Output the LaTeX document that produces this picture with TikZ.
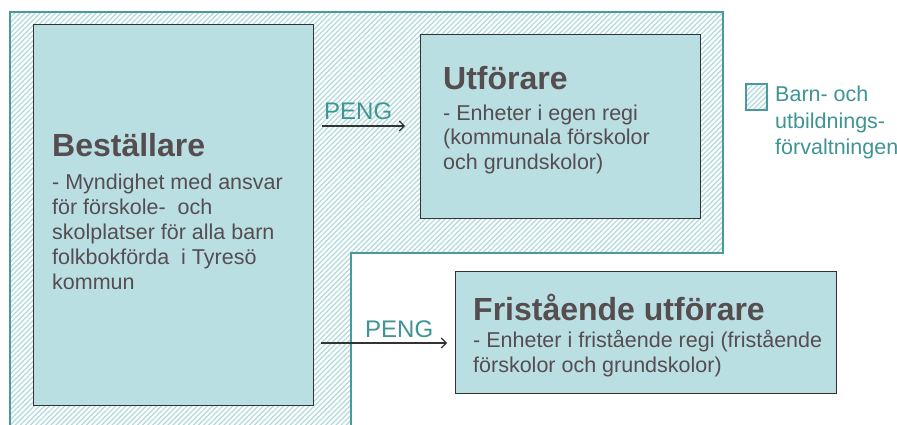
\documentclass[tikz,border=0pt]{standalone}
\usepackage{fontspec}
\setmainfont{Liberation Sans}
\usetikzlibrary{patterns.meta,arrows.meta}
\definecolor{boxfill}{HTML}{BADFE3}
\definecolor{boxline}{HTML}{333333}
\definecolor{txt}{HTML}{554D50}
\definecolor{teal}{HTML}{3F9496}
\definecolor{hatchc}{HTML}{AFD9DC}
\definecolor{hatchline}{HTML}{4A9A9C}
\begin{document}
\begin{tikzpicture}[x=1pt,y=-1pt,
  hatch/.style={draw=hatchline,line width=1.4pt,
    pattern={Lines[angle=45,distance=3.6pt,line width=1.2pt]},pattern color=hatchc},
  box/.style={draw=boxline,fill=boxfill,line width=1.1pt,rectangle,inner sep=0pt,anchor=north west},
  titletext/.style={text=txt,font=\bfseries\fontsize{32}{36}\selectfont,inner sep=0pt,anchor=base west},
  bodytext/.style={text=txt,font=\fontsize{21.5}{25}\selectfont,align=left,inner sep=0pt,anchor=base west},
  legendtext/.style={text=teal,font=\fontsize{21.5}{26}\selectfont,align=left,inner sep=0pt,anchor=base west},
  pengtext/.style={text=teal,font=\fontsize{24}{28}\selectfont,inner sep=0pt,anchor=base west},
  flow/.style={draw=boxline,line width=1.1pt,-{Straight Barb[length=5pt,width=10pt,line width=1.1pt]}}
]
\useasboundingbox (0,0) rectangle (897,425);
\clip (0,0) rectangle (897,425);
\fill[white] (0,0) rectangle (897,425);
% hatched area of the administration
\path[hatch] (10,12) -- (723,12) -- (723,253) -- (351,253) -- (351,440) -- (10,440) -- cycle;
% boxes
\node[box,minimum width=280pt,minimum height=381pt] (best) at (33,24) {};
\node[box,minimum width=280pt,minimum height=184pt] (utf) at (420,34) {};
\node[box,minimum width=381pt,minimum height=122pt] (fri) at (455,271) {};
% texts (multi-line nodes: base = baseline of last line)
\node[titletext] (bestT) at (52,157) {Beställare};
\node[bodytext] (bestB) at (52,289) {- Myndighet med ansvar\\för förskole-\ \ och\\skolplatser för alla barn\\folkbokförda\ \ i Tyresö\\kommun};
\node[titletext] (utfT) at (443,90) {Utförare};
\node[bodytext] (utfB) at (443,170) {- Enheter i egen regi\\(kommunala förskolor\\och grundskolor)};
\node[titletext] (friT) at (473,320) {Fristående utförare};
\node[bodytext] (friB) at (473,372) {- Enheter i fristående regi (fristående\\förskolor och grundskolor)};
% legend
\path[hatch] (746,84) rectangle (767,110);
\node[legendtext] (leg) at (775,154) {Barn- och\\utbildnings-\\förvaltningen};
% money flows
\coordinate (lvl1) at (0,126);
\coordinate (lvl2) at (0,343);
\node[pengtext] (peng1) at (324,120) {PENG};
\node[pengtext] (peng2) at (365,337) {PENG};
\draw[flow,shorten <=8pt,shorten >=15pt] (best.east |- lvl1) -- (utf.west |- lvl1);
\draw[flow,shorten <=7pt,shorten >=8pt] (best.east |- lvl2) -- (fri.west |- lvl2);
\end{tikzpicture}
\end{document}
